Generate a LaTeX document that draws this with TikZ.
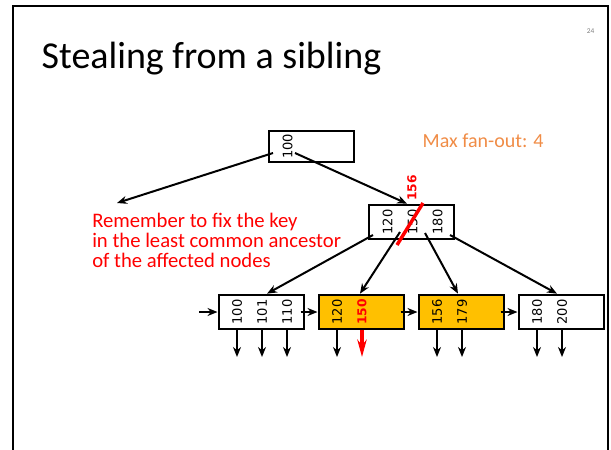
\documentclass[tikz,border=0pt]{standalone}
\usepackage{fontspec}
\setmainfont{Carlito}
\newfontfamily\keyfont{DejaVu Sans}
\usetikzlibrary{arrows.meta}
\definecolor{leaforange}{RGB}{255,192,0}
\definecolor{fanorange}{RGB}{240,140,70}

\begin{document}
\begin{tikzpicture}[x=0.75pt,y=-0.75pt,
  box/.style={draw, line width=1.5pt, minimum width=63.75pt, minimum height=26pt, inner sep=0pt},
  key/.style={rotate=90, inner sep=0pt, font=\keyfont\fontsize{9.8}{10}\selectfont},
  hot/.style={text=red, font=\keyfont\bfseries\fontsize{9.2}{10}\selectfont},
  ptr/.style={-{Stealth[length=7.5pt,width=6pt]}, line width=1.5pt}]

\def\kl{-24}
\def\km{1}
\def\kr{26}
\def\yl{312}

\useasboundingbox (0,0) rectangle (611,450);
\draw[line width=1.5pt] (13,451) -- (13,6) -- (608,6) -- (608,451);

\node[anchor=base west, font=\fontsize{28.5}{34}\selectfont] (title) at (37,68) {Stealing from a sibling};
\node[anchor=base east, text=gray, font=\fontsize{5.5}{6}\selectfont] (page) at (599,33) {24};
\node[anchor=base west, text=fanorange, font=\fontsize{15}{18}\selectfont] (fan) at (418,147) {Max fan-out: 4};
\node[anchor=north west, align=left, inner sep=0pt, text=red, font=\fontsize{15.5}{15}\selectfont] (note) at (92,213)
  {Remember to fix the key\\in the least common ancestor\\of the affected nodes};

% inner nodes
\node[box, minimum height=23.5pt] (r) at (311.5,146.5) {};
\node[box] (m) at (411.5,222) {};

\node[key] (r1) at ([shift={(\kl,0)}]r.center) {100};
\node[key] (m1) at ([shift={(\kl,0)}]m.center) {120};
\node[key] (m2) at ([shift={(\km,0)}]m.center) {150};
\node[key] (m3) at ([shift={(\kr,0)}]m.center) {180};

% leaves
\node[box] (a) at (261,\yl) {};
\node[box, fill=leaforange] (b) at (361,\yl) {};
\node[box, fill=leaforange] (c) at (461,\yl) {};
\node[box] (d) at (561,\yl) {};

\node[key] (a1) at ([shift={(\kl,0)}]a.center) {100};
\node[key] (a2) at ([shift={(\km,0)}]a.center) {101};
\node[key] (a3) at ([shift={(\kr,0)}]a.center) {110};
\node[key] (b1) at ([shift={(\kl,0)}]b.center) {120};
\node[key, hot] (b2) at ([shift={(\km,0)}]b.center) {150};
\node[key] (c1) at ([shift={(\kl,0)}]c.center) {156};
\node[key] (c2) at ([shift={(\km,0)}]c.center) {179};
\node[key] (d1) at ([shift={(\kl,0)}]d.center) {180};
\node[key] (d2) at ([shift={(\km,0)}]d.center) {200};

% the new separator
\draw[red, line width=2.6pt] ([shift={(11.5,-19)}]m.center) -- ([shift={(-14.5,23)}]m.center);
\node[key, hot] (new) at ([shift={(0.5,-34)}]m.center) {156};

\coordinate (fix) at (117,203);
\coordinate (in) at (199,\yl);
\coordinate (floor) at (0,357);

\draw[ptr] ([shift={(-38.5,6.5)}]r.center) -- (fix);
\draw[ptr] ([shift={(-16.5,6.5)}]r.center) -- ([shift={(-4.5,0)}]m.north);

\draw[ptr] ([shift={(-38.5,13)}]m.center) -- ([shift={(6,0)}]a.north);
\draw[ptr] ([shift={(-11.5,10)}]m.center) -- ([shift={(-1,0)}]b.north);
\draw[ptr] ([shift={(13.5,11)}]m.center) -- ([shift={(-3,0)}]c.north);
\draw[ptr] ([shift={(38.5,13)}]m.center) -- ([shift={(-4,0)}]d.north);

\draw[ptr] (in) -- (a.west);
\draw[ptr] ([xshift=-3pt]a.east) -- (b.west);
\draw[ptr] ([xshift=-3pt]b.east) -- (c.west);
\draw[ptr] ([xshift=-3pt]c.east) -- (d.west);

\foreach \k in {a1,a2,a3,b1,c1,c2,d1,d2}
  \draw[ptr] (\k |- a.south) -- (\k |- floor);
\draw[red, line width=2.6pt, -{Stealth[length=13pt,width=7pt]}] (b2 |- b.south) -- (b2 |- floor);

\end{tikzpicture}
\end{document}
